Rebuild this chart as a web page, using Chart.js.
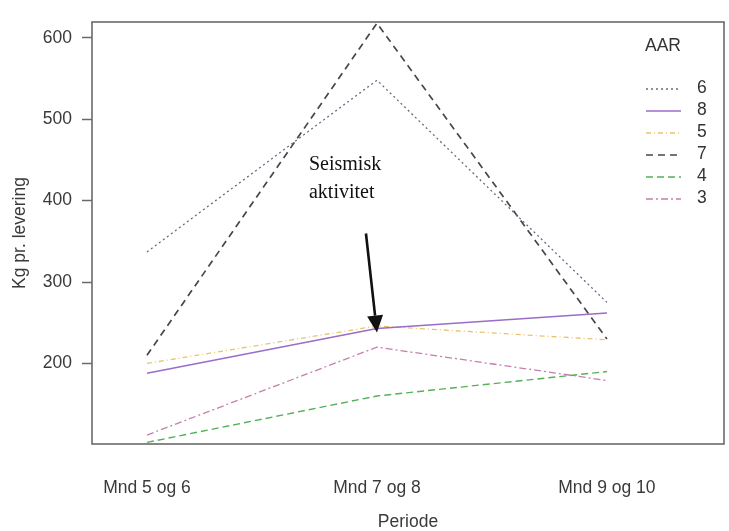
<!DOCTYPE html>
<html>
<head>
<meta charset="utf-8">
<script src="https://cdn.jsdelivr.net/npm/chart.js@4/dist/chart.umd.min.js"></script>
<style>
body { margin: 0; background: #fff; }
#wrap { width: 729px; height: 531px; }
</style>
</head>
<body>
<div id="wrap"><canvas id="chart"></canvas></div>
<script>
// data
const periods = ['Mnd 5 og 6', 'Mnd 7 og 8', 'Mnd 9 og 10'];
const yTicks = [200, 300, 400, 500, 600];
const seriesNames = ['6', '8', '5', '7', '4', '3'];
const aar6 = [337, 548, 275];
const aar8 = [188, 243, 262];
const aar5 = [200, 246, 229];
const aar7 = [210, 618, 230];
const aar4 = [103, 160, 190];
const aar3 = [112, 220, 179];

const seriesValues = [aar6, aar8, aar5, aar7, aar4, aar3];
const lineStyles = [
    { color: '#666d80', dash: [2, 3], width: 1.3 },
    { color: '#9b6cc9', dash: [], width: 1.5 },
    { color: '#e8c46e', dash: [5, 3, 1, 3], width: 1.3 },
    { color: '#474747', dash: [7, 5], width: 1.7 },
    { color: '#55b05a', dash: [7, 4], width: 1.4 },
    { color: '#c67fab', dash: [7, 3, 2, 3], width: 1.3 }
];

const datasets = seriesNames.map((name, i) => ({
    label: name,
    data: seriesValues[i].map((v, j) => ({ x: j, y: v })),
    borderColor: lineStyles[i].color,
    borderDash: lineStyles[i].dash,
    borderWidth: lineStyles[i].width,
    pointRadius: 0,
    fill: false,
    tension: 0
}));

const framePlugin = {
    id: 'frame',
    afterDraw(chart) {
        const { ctx, chartArea: a, scales: { x, y } } = chart;
        ctx.save();
        // box round the plot
        ctx.strokeStyle = '#6a6a6a';
        ctx.lineWidth = 1.6;
        ctx.setLineDash([]);
        ctx.strokeRect(a.left, a.top, a.right - a.left, a.bottom - a.top);

        // legend inside the plot
        const lx = a.right - 78;
        ctx.fillStyle = '#333';
        ctx.font = '17.5px Arial, "Liberation Sans", sans-serif';
        ctx.textBaseline = 'middle';
        ctx.textAlign = 'left';
        ctx.fillText('AAR', lx - 1, 46);
        chart.data.datasets.forEach((ds, i) => {
            const ly = 88 + i * 22;
            ctx.strokeStyle = ds.borderColor;
            ctx.lineWidth = ds.borderWidth;
            ctx.setLineDash(ds.borderDash);
            ctx.beginPath();
            ctx.moveTo(lx, ly + 1);
            ctx.lineTo(lx + 35, ly + 1);
            ctx.stroke();
            ctx.fillText(ds.label, lx + 51, ly);
        });

        // annotation with arrow
        const tipX = x.getPixelForValue(1);
        const tipY = y.getPixelForValue(238);
        const startX = tipX - 11, startY = tipY - 99;
        ctx.setLineDash([]);
        ctx.fillStyle = '#111';
        ctx.font = '20px "Liberation Serif", "Times New Roman", serif';
        ctx.fillText('Seismisk', tipX - 68, tipY - 168);
        ctx.fillText('aktivitet', tipX - 68, tipY - 140);

        const dx = tipX - startX, dy = tipY - startY;
        const len = Math.hypot(dx, dy);
        const ux = dx / len, uy = dy / len;
        const hl = 17, hw = 8;
        const bx = tipX - ux * hl, by = tipY - uy * hl;
        ctx.strokeStyle = '#111';
        ctx.lineWidth = 2.6;
        ctx.beginPath();
        ctx.moveTo(startX, startY);
        ctx.lineTo(bx, by);
        ctx.stroke();
        ctx.beginPath();
        ctx.moveTo(tipX, tipY);
        ctx.lineTo(bx - uy * hw, by + ux * hw);
        ctx.lineTo(bx + uy * hw, by - ux * hw);
        ctx.closePath();
        ctx.fill();
        ctx.restore();
    }
};

const tickFont = { family: 'Arial, "Liberation Sans", sans-serif', size: 17.5 };

new Chart(document.getElementById('chart'), {
    type: 'line',
    data: { datasets: datasets },
    options: {
        responsive: true,
        maintainAspectRatio: false,
        animation: false,
        layout: { padding: { top: 22, right: 5, left: 0, bottom: 0 } },
        plugins: {
            legend: { display: false },
            tooltip: { enabled: false }
        },
        scales: {
            x: {
                type: 'linear',
                min: -0.239,
                max: 2.509,
                afterBuildTicks: s => { s.ticks = periods.map((p, i) => ({ value: i })); },
                afterFit: s => { s.height = 87; },
                ticks: {
                    callback: v => periods[v],
                    font: tickFont,
                    color: '#3a3a3a',
                    padding: 26,
                    maxRotation: 0,
                    autoSkip: false
                },
                grid: { display: false },
                border: { display: false },
                title: {
                    display: true,
                    text: 'Periode',
                    font: { family: tickFont.family, size: 17.5, lineHeight: 1 },
                    color: '#3a3a3a',
                    padding: { top: 0, bottom: 0 }
                }
            },
            y: {
                min: 101,
                max: 619.5,
                afterBuildTicks: s => { s.ticks = yTicks.map(v => ({ value: v })); },
                afterFit: s => { s.width = 92; },
                ticks: {
                    font: tickFont,
                    color: '#3a3a3a',
                    padding: 10
                },
                grid: {
                    drawOnChartArea: false,
                    tickLength: 10,
                    tickColor: '#6a6a6a',
                    tickWidth: 1.5
                },
                border: { display: false },
                title: {
                    display: true,
                    text: 'Kg pr. levering',
                    font: { family: tickFont.family, size: 17.5 },
                    color: '#3a3a3a',
                    padding: { top: 10, bottom: 0 }
                }
            }
        }
    },
    plugins: [framePlugin]
});
</script>
</body>
</html>
